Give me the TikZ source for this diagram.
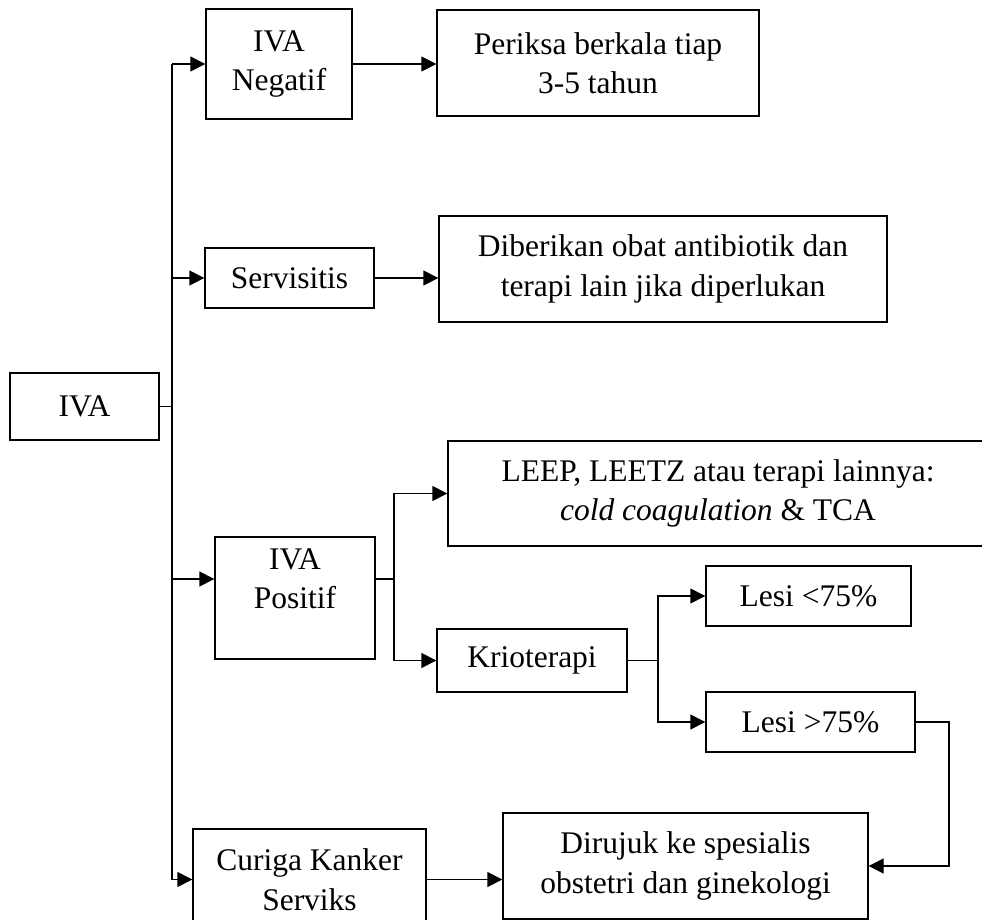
\documentclass[tikz,border=0pt]{standalone}
\usepackage{fontspec}
\setmainfont{Liberation Serif}
\usetikzlibrary{arrows.meta, calc}

\begin{document}
\begin{tikzpicture}[
  x=1pt, y=-1pt,
  txt/.style={align=center, font=\fontsize{31.5}{39.5}\selectfont},
  box/.style={txt, draw, line width=1.4pt, inner sep=0pt},
  arr/.style={-{Triangle[length=15pt, width=15pt]}, line width=1.4pt},
  conn/.style={line width=1.4pt},
]
\useasboundingbox (0,0) rectangle (982,920);
\clip (0,0) rectangle (982,920);

% Root
\node[box, minimum width=149pt, minimum height=67pt] (iva) at (84.5,406.5) {IVA};
% First level
\node[box, minimum width=146pt, minimum height=110pt] (neg) at (279,64) {IVA\\Negatif};
\node[box, minimum width=169pt, minimum height=60pt] (serv) at (289.5,278) {Servisitis};
\node[box, minimum width=160pt, minimum height=122pt,
  label={[txt, yshift=19pt]center:{IVA\\Positif}}] (pos) at (295,598) {};
\node[box, minimum width=233pt, minimum height=101pt] (curiga) at (309.5,879.5) {Curiga Kanker\\Serviks};
% Second level
\node[box, minimum width=322pt, minimum height=106pt] (periksa) at (598,63) {Periksa berkala tiap\\3-5 tahun};
\node[box, minimum width=448pt, minimum height=106pt] (diberi) at (663,269) {Diberikan obat antibiotik dan\\terapi lain jika diperlukan};
\node[box, minimum width=540pt, minimum height=105pt] (leep) at (718,493.5) {LEEP, LEETZ atau terapi lainnya:\\\textit{cold coagulation} \& TCA};
\node[box, minimum width=190pt, minimum height=63pt] (krio) at (532,660.5) {Krioterapi};
\node[box, minimum width=205pt, minimum height=60pt] (lesia) at (808.5,596) {Lesi <75\%};
\node[box, minimum width=209pt, minimum height=60pt] (lesib) at (810.5,722) {Lesi >75\%};
\node[box, minimum width=365pt, minimum height=106pt] (rujuk) at (685.5,866) {Dirujuk ke spesialis\\obstetri dan ginekologi};

% Junctions
\coordinate (trunk) at (172,406.5);
\coordinate (posin) at ([yshift=19pt]pos.west);
\coordinate (posout) at ([yshift=19pt]pos.east);
\coordinate (psplit) at (394,579);
\coordinate (ksplit) at (658,660.5);
\coordinate (bend) at (949,722);

% Trunk
\draw[conn] (iva.east) -- (trunk);
\draw[conn] (trunk |- neg.west) -- (trunk |- curiga.west);
\draw[arr] (trunk |- neg.west) -- (neg.west);
\draw[arr] (trunk |- serv.west) -- (serv.west);
\draw[arr] (trunk |- posin) -- (posin);
\draw[arr] (trunk |- curiga.west) -- (curiga.west);

% Follow-up
\draw[arr] (neg.east) -- (neg.east -| periksa.west);
\draw[arr] (serv.east) -- (serv.east -| diberi.west);
\draw[conn] (posout) -- (psplit);
\draw[arr] (psplit) |- (leep.west);
\draw[arr] (psplit) |- (krio.west);
\draw[conn] (krio.east) -- (ksplit);
\draw[arr] (ksplit) |- (lesia.west);
\draw[arr] (ksplit) |- (lesib.west);
\draw[arr] (lesib.east) -- (bend) |- (rujuk.east);
\draw[arr] (curiga.east) -- (curiga.east -| rujuk.west);
\end{tikzpicture}
\end{document}
